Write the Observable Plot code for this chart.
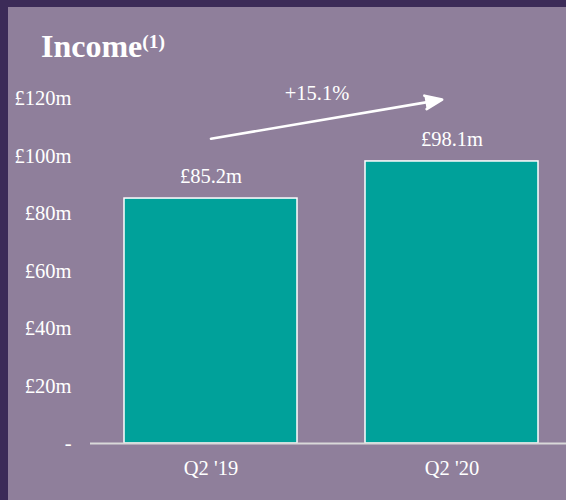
<!DOCTYPE html>
<html><head><meta charset="utf-8">
<script src="https://cdn.jsdelivr.net/npm/d3@7"></script>
<script src="https://cdn.jsdelivr.net/npm/@observablehq/plot@0.6"></script>
<style>
html,body{margin:0;padding:0;}
body{width:566px;height:500px;background:#3c2b58;position:relative;overflow:hidden;font-family:"Liberation Serif","Times New Roman",serif;}
#panel{position:absolute;left:8px;top:7px;width:558px;height:493px;background:#8f7f9b;}
#title{position:absolute;left:41px;top:30px;font-size:32px;line-height:32px;font-weight:bold;color:#fff;white-space:nowrap;}
#title sup{font-size:19.5px;vertical-align:9px;line-height:0;}
#chart{position:absolute;left:0;top:75px;}
</style></head><body>
<div id="panel"></div>
<div id="title">Income<sup>(1)</sup></div>
<div id="chart"></div>
<script>
const categories = ["Q2 '19", "Q2 '20"];
const income = [85.2, 98.1];
const yTicks = [0, 20, 40, 60, 80, 100, 120];
// annotation arrow (in data units of the y scale)
const arrowStartY = 106;
const arrowEndY = 120.2;
const changeLabelY = 121.7;

const data = categories.map((c, i) => ({period: c, value: income[i]}));
const change = (income[1] / income[0] - 1) * 100;
const changeText = (change >= 0 ? "+" : "") + change.toFixed(1) + "%";

const teal = "#00a19a";
const fontSize = 20.5;

const chart = Plot.plot({
  width: 566,
  height: 425,
  marginLeft: 90,
  marginRight: 0,
  marginTop: 23,
  marginBottom: 57,
  style: {background: "transparent", overflow: "visible", color: "#fff", fontFamily: "'Liberation Serif','Times New Roman',serif", fontSize: fontSize + "px"},
  x: {domain: categories, paddingInner: 0.284, paddingOuter: 0.1275, align: 0.55, tickSize: 0, tickPadding: 17, label: null},
  y: {domain: [0, 120], ticks: yTicks, tickFormat: d => d === 0 ? "-" : "£" + d + "m", tickSize: 0, tickPadding: 19, label: null},
  marks: [
    Plot.barY(data, {x: "period", y: "value", fill: teal, stroke: "#fff", strokeWidth: 1.5}),
    Plot.ruleY([0], {stroke: "#d9d9d9", strokeWidth: 2}),
    Plot.text(data, {x: "period", y: "value", text: d => "£" + d.value.toFixed(1) + "m", dy: -22, fill: "#fff", fontSize: fontSize}),
    Plot.arrow([{}], {x1: () => categories[0], y1: () => arrowStartY, x2: () => categories[1], y2: () => arrowEndY, stroke: "#fff", fill: "#fff", strokeWidth: 2.6, headLength: 10.5, headAngle: 44, insetEnd: 10}),
    Plot.text([changeText], {x: () => categories[0], y: () => changeLabelY, text: d => d, dx: 106, fill: "#fff", fontSize: fontSize})
  ]
});
document.getElementById("chart").appendChild(chart);
</script>
</body></html>
